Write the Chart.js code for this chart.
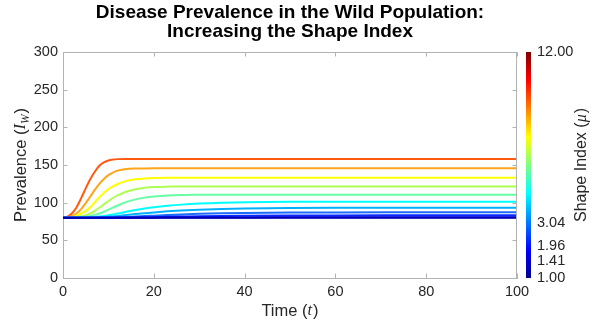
<!DOCTYPE html>
<html><head><meta charset="utf-8">
<script src="https://cdn.jsdelivr.net/npm/chart.js@4.4.1/dist/chart.umd.min.js"></script>
<style>html,body{margin:0;padding:0;background:#fff}#wrap{width:594px;height:320px;position:relative}</style>
</head><body><div id="wrap"><canvas id="c"></canvas></div>
<script>
// ---- data ----
const times = [0,1,2,3,4,5,6,7,8,9,10,11,12,14,16,18,20,23,26,30,35,40,50,60,80,100];
const prevMu12   = [80,81.5,86,94,106,119,131,141,149,153.5,156,157.3,157.8,158,158,158,158,158,158,158,158,158,158,158,158,158];
const prevA      = [80,80.8,82.5,86,91.5,99.5,108,117,125,131.5,136.5,140,142.5,144.7,145.3,145.5,145.6,145.6,145.6,145.6,145.6,145.6,145.6,145.6,145.6,145.6];
const prevB      = [80,80.3,81,82.8,85.8,89.2,94,100.5,107.3,112.8,118,121.7,124.8,128.9,131.1,132.2,132.7,133,133.1,133.1,133.1,133.1,133.1,133.1,133.1,133.1];
const prevC      = [80,80.1,80.4,81,82,83.4,85.7,89.2,93.3,97.8,102.2,106.2,109.6,114.8,117.9,119.7,120.7,121.3,121.5,121.6,121.6,121.6,121.6,121.6,121.6,121.6];
const prevD      = [80,80,80.1,80.3,80.7,81.4,82.4,83.8,85.6,87.9,90.7,93.5,96.2,101,104.4,106.7,108.1,109.4,110.1,110.4,110.6,110.6,110.6,110.6,110.6,110.6];
const prevE      = [80,80,80,80.1,80.2,80.3,80.6,81,81.6,82.4,83.3,84.4,85.5,88,90.4,92.4,94,95.9,97.4,98.8,99.9,100.5,101.1,101.3,101.3,101.3];
const prevF      = [80,80,80,80,80.1,80.2,80.3,80.5,80.7,81,81.4,81.8,82.3,83.5,84.8,86,87.1,88.5,89.6,90.7,91.7,92.3,92.9,93.2,93.3,93.3];
const prevMu304  = [80,80,80,80,80,80,80,80,80.1,80.2,80.3,80.4,80.6,81,81.6,82.2,82.8,83.7,84.4,85.2,85.9,86.4,86.9,87.1,87.2,87.2];
const prevMu196  = [80,80,80,80,80,80,80,80,80,80,80.1,80.1,80.2,80.3,80.5,80.7,80.9,81.3,81.6,82,82.4,82.7,83,83.1,83.2,83.2];
const prevMu141  = [80,80,80,80,80,80,80,80,80,80,80,80,80,80,80.05,80.1,80.1,80.2,80.25,80.3,80.4,80.45,80.5,80.55,80.6,80.6];
const prevMu100  = [80,80,80,80,80,80,80,80,80,80,80,80,80,80,80,80,80,80,80,80,80,80,80,80,80,80];
const xTicks = [0,20,40,60,80,100];
const yTicks = [0,50,100,150,200,250,300];
const cbTickLabels = ['1.00','1.41','1.96','3.04','12.00'];
const cbTickFrac   = [0, 0.074, 0.142, 0.243, 1];   // position of each label along the colour bar (0 = bottom)
const titleLines = ['Disease Prevalence in the Wild Population:', 'Increasing the Shape Index'];

const series = [prevMu100, prevMu141, prevMu196, prevMu304, prevF, prevE, prevD, prevC, prevB, prevA, prevMu12];
const colors = ['#0000b4','#0000e6','#0a28ff','#1a6cff','#00b0ff','#00ffff','#66ffa4','#adff52','#ffff00','#ffa519','#ff5a10'];

const FONT = '"Liberation Sans", Arial, Helvetica, sans-serif';
const SERIF = '"Liberation Serif", "DejaVu Serif", serif';
const AXC = '#b3b3b3';
const TXT = '#262626';

function drawRich(ctx, parts, x, y, size, rot) {
  ctx.save();
  ctx.translate(x, y);
  if (rot) ctx.rotate(rot);
  ctx.textBaseline = 'middle';
  ctx.fillStyle = TXT;
  const fontOf = p => (p.it ? 'italic ' : '') + (p.sub ? size * 0.7 : size) + 'px ' + (p.it ? SERIF : FONT);
  let total = 0;
  const widths = parts.map(p => {
    ctx.font = fontOf(p);
    const w = ctx.measureText(p.t).width + (p.gap || 0);
    total += w; return w;
  });
  let cx = -total / 2;
  parts.forEach((p, i) => {
    ctx.font = fontOf(p);
    ctx.textAlign = 'left';
    ctx.fillText(p.t, cx, p.sub ? size * 0.3 : 0);
    cx += widths[i];
  });
  ctx.restore();
}

const decor = {
  id: 'decor',
  afterDraw(chart) {
    const ctx = chart.ctx, a = chart.chartArea;
    const xs = chart.scales.x, ys = chart.scales.y, cb = chart.scales.cb;
    ctx.save();
    // box + inward ticks
    ctx.strokeStyle = AXC; ctx.lineWidth = 1;
    ctx.beginPath();
    ctx.moveTo(a.left, a.top + 0.5); ctx.lineTo(a.right, a.top + 0.5);
    ctx.moveTo(a.right - 0.5, a.top); ctx.lineTo(a.right - 0.5, a.bottom);
    xTicks.forEach(v => {
      const px = Math.round(xs.getPixelForValue(v)) + 0.5;
      ctx.moveTo(px, a.bottom); ctx.lineTo(px, a.bottom - 4.5);
      ctx.moveTo(px, a.top); ctx.lineTo(px, a.top + 4.5);
    });
    yTicks.forEach(v => {
      const py = Math.round(ys.getPixelForValue(v)) + 0.5;
      ctx.moveTo(a.left, py); ctx.lineTo(a.left + 4.5, py);
      ctx.moveTo(a.right, py); ctx.lineTo(a.right - 4.5, py);
    });
    ctx.stroke();
    // colour bar
    const top = cb.getPixelForValue(1), bot = cb.getPixelForValue(0);
    const g = ctx.createLinearGradient(0, bot, 0, top);
    g.addColorStop(0, '#00008f'); g.addColorStop(0.125, '#0000ff'); g.addColorStop(0.375, '#00ffff');
    g.addColorStop(0.625, '#ffff00'); g.addColorStop(0.875, '#ff0000'); g.addColorStop(1, '#800000');
    ctx.fillStyle = g;
    ctx.fillRect(cb.left + 9, top, 5, bot - top);
    ctx.restore();
    // titles
    ctx.save();
    ctx.fillStyle = '#000'; ctx.textAlign = 'center'; ctx.textBaseline = 'middle';
    ctx.font = 'bold 19px ' + FONT;
    const cxm = (a.left + a.right) / 2;
    ctx.fillText(titleLines[0], cxm, 12.5);
    ctx.fillText(titleLines[1], cxm, 31.5);
    ctx.restore();
    drawRich(ctx, [{t:'Time ('},{t:'t',it:true, gap:1},{t:')'}], cxm, 311, 16.5, 0);
    drawRich(ctx, [{t:'Prevalence ('},{t:'I',it:true},{t:'W',it:true,sub:true,gap:1},{t:')'}], 21, (a.top + a.bottom) / 2, 16.5, -Math.PI / 2);
    drawRich(ctx, [{t:'Shape Index ('},{t:'μ',it:true, gap:1},{t:')'}], 582, (a.top + a.bottom) / 2, 16, -Math.PI / 2);
  }
};

new Chart(document.getElementById('c'), {
  type: 'line',
  data: {
    datasets: series.map((s, i) => ({
      data: s.map((v, k) => ({ x: times[k], y: v })),
      borderColor: colors[i], borderWidth: 2, pointRadius: 0, fill: false,
      cubicInterpolationMode: 'monotone'
    }))
  },
  options: {
    responsive: true, maintainAspectRatio: false, animation: false,
    layout: { padding: { top: 52, left: 0, right: 0, bottom: 0 } },
    plugins: { legend: { display: false }, title: { display: false }, tooltip: { enabled: false } },
    scales: {
      x: {
        type: 'linear', min: 0, max: 100,
        afterBuildTicks: s => { s.ticks = xTicks.map(v => ({ value: v })); },
        ticks: { font: { size: 14.5, family: FONT }, color: TXT, padding: 5, maxRotation: 0 },
        grid: { display: false, drawTicks: false },
        border: { color: AXC },
        afterFit: s => { s.height = 42; }
      },
      y: {
        type: 'linear', min: 0, max: 300,
        afterBuildTicks: s => { s.ticks = yTicks.map(v => ({ value: v })); },
        ticks: { font: { size: 14.5, family: FONT }, color: TXT, padding: 5 },
        grid: { display: false, drawTicks: false },
        border: { color: AXC },
        afterFit: s => { s.width = 63; }
      },
      cb: {
        type: 'linear', position: 'right', min: 0, max: 1,
        afterBuildTicks: s => { s.ticks = cbTickFrac.map(v => ({ value: v })); },
        ticks: { font: { size: 14.5, family: FONT }, color: TXT, padding: 20, autoSkip: false,
                 callback: (v, i) => cbTickLabels[i] },
        grid: { display: false, drawTicks: false },
        border: { display: false },
        afterFit: s => { s.width = 77; }
      }
    }
  },
  plugins: [decor]
});
</script>
</body></html>
